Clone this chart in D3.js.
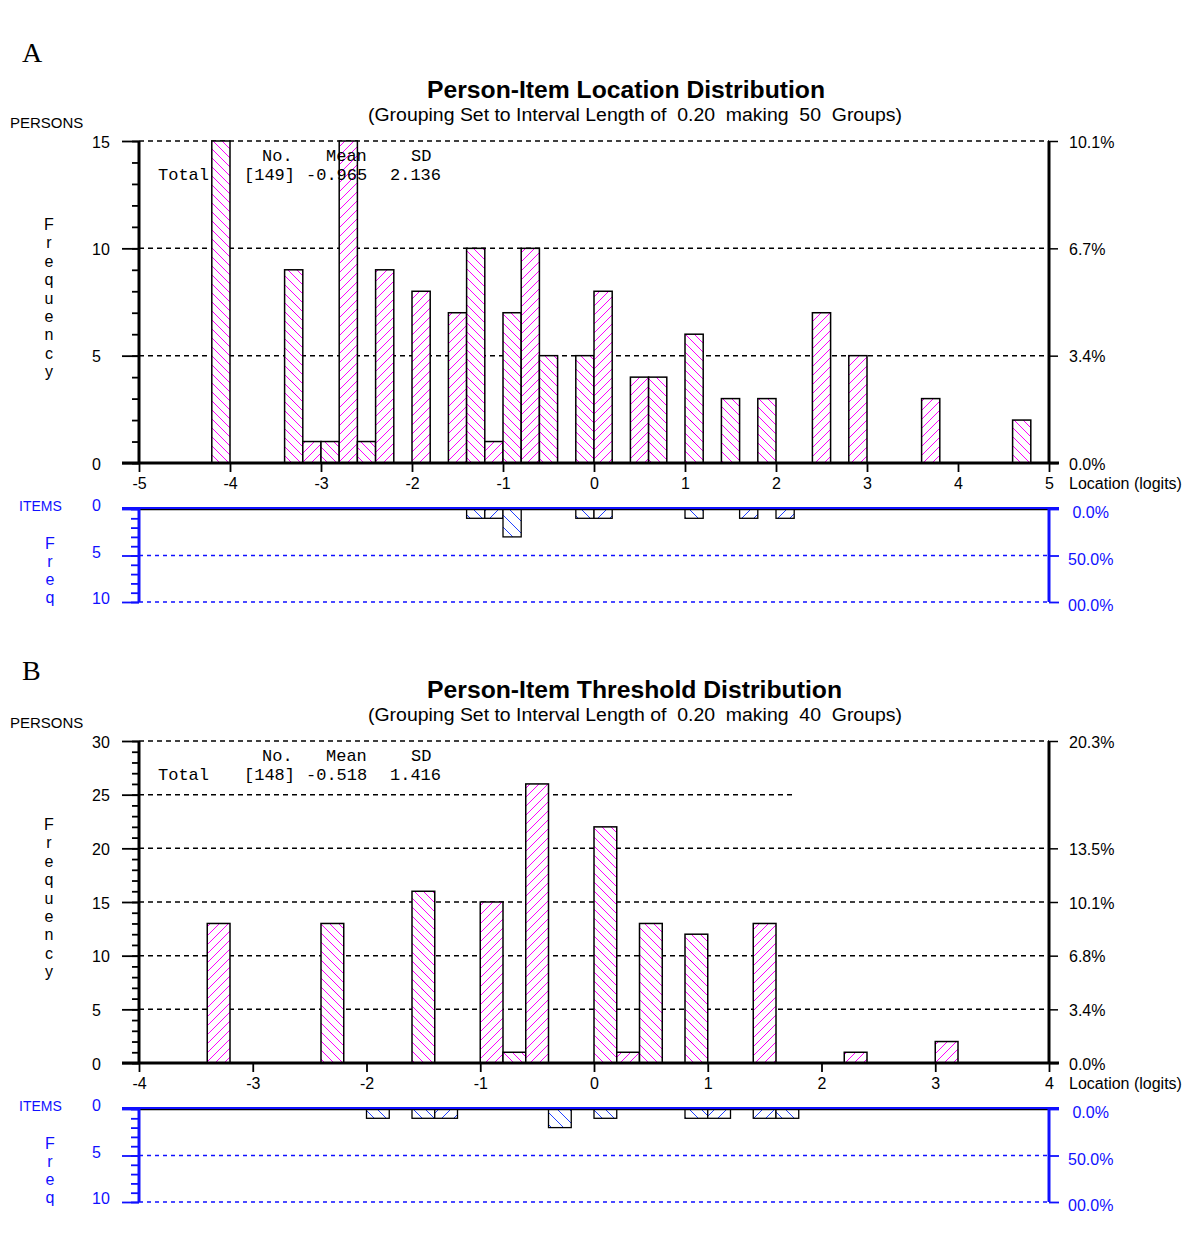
<!DOCTYPE html>
<html>
<head>
<meta charset="utf-8">
<script src="https://cdn.jsdelivr.net/npm/d3@7"></script>
<style>
  body { margin: 0; background: #fff; }
  text { white-space: pre; }
</style>
</head>
<body>
<script>
// ---- data ----
// panel A: person / item locations, bins of 0.2 logits (lower edge of each bin)
const locPersonEdges = [-4.2, -3.4, -3.2, -3.0, -2.8, -2.6, -2.4, -2.0, -1.6, -1.4, -1.2, -1.0, -0.8, -0.6, -0.2, 0.0, 0.4, 0.6, 1.0, 1.4, 1.8, 2.4, 2.8, 3.6, 4.6];
const locPersonCounts = [15, 9, 1, 1, 15, 1, 9, 8, 7, 10, 1, 7, 10, 5, 5, 8, 4, 4, 6, 3, 3, 7, 5, 3, 2];
const locItemEdges = [-1.4, -1.2, -1.0, -0.2, 0.0, 1.0, 1.6, 2.0];
const locItemCounts = [1, 1, 3, 1, 1, 1, 1, 1];
const locXTicks = [-5, -4, -3, -2, -1, 0, 1, 2, 3, 4, 5];
const locYTicks = [0, 5, 10, 15];
const locPctTicks = [0, 5, 10, 15];
const locPctLabels = ["0.0%", "3.4%", "6.7%", "10.1%"];
const locStats = ["[149]", "-0.965", "2.136"];

// panel B: person / item thresholds
const thrPersonEdges = [-3.4, -2.4, -1.6, -1.0, -0.8, -0.6, 0.0, 0.2, 0.4, 0.8, 1.4, 2.2, 3.0];
const thrPersonCounts = [13, 13, 16, 15, 1, 26, 22, 1, 13, 12, 13, 1, 2];
const thrItemEdges = [-2.0, -1.6, -1.4, -0.4, 0.0, 0.8, 1.0, 1.4, 1.6];
const thrItemCounts = [1, 1, 1, 2, 1, 1, 1, 1, 1];
const thrXTicks = [-4, -3, -2, -1, 0, 1, 2, 3, 4];
const thrYTicks = [0, 5, 10, 15, 20, 25, 30];
const thrPctTicks = [0, 5, 10, 15, 20, 30];
const thrPctLabels = ["0.0%", "3.4%", "6.8%", "10.1%", "13.5%", "20.3%"];
const thrStats = ["[148]", "-0.518", "1.416"];

// item panel (same in both)
const itemTicks = [0, 5, 10];
const itemPctLabels = [" 0.0%", "50.0%", "00.0%"];

const binWidth = 0.2;
const SANS = "'Liberation Sans', Arial, sans-serif";
const MONO = "'Liberation Mono', 'Courier New', monospace";
const BLUE = "#1010ff";

const svg = d3.select("body").append("svg")
  .attr("width", 1200)
  .attr("height", 1238);

const defs = svg.append("defs");

function addHatch(id, color, s, dir) {
  const p = defs.append("pattern")
    .attr("id", id)
    .attr("patternUnits", "userSpaceOnUse")
    .attr("width", s)
    .attr("height", s);
  p.append("rect").attr("width", s).attr("height", s).attr("fill", "#fff");
  const d = dir === "/"
    ? `M0,${s} L${s},0 M${-s / 2},${s / 2} L${s / 2},${-s / 2} M${s / 2},${s * 1.5} L${s * 1.5},${s / 2}`
    : `M0,0 L${s},${s} M${-s / 2},${s / 2} L${s / 2},${s * 1.5} M${s / 2},${-s / 2} L${s * 1.5},${s / 2}`;
  p.append("path").attr("d", d).attr("stroke", color).attr("stroke-width", 1).attr("fill", "none");
}
addHatch("pf", "#ff00ff", 9, "/");
addHatch("pb", "#ff00ff", 9, "\\");
addHatch("if", "#2040ff", 12, "/");
addHatch("ib", "#2040ff", 12, "\\");

function vertical(g, letters, x, y0, step, color) {
  letters.split("").forEach((ch, i) => {
    g.append("text")
      .attr("x", x).attr("y", y0 + i * step)
      .attr("text-anchor", "middle")
      .attr("font-family", SANS).attr("font-size", 16)
      .attr("fill", color)
      .text(ch);
  });
}

function drawPanel(p) {
  const off = p.offset;
  const g = svg.append("g");
  const x = d3.scaleLinear().domain(p.xDomain).range([139, 1049]);
  const y = d3.scaleLinear().domain([0, p.yMax]).range([463 + off, 141 + off]);
  const yi = d3.scaleLinear().domain([0, 10]).range([509 + off, 602 + off]);
  const hatch = (edge, kind) => {
    const idx = Math.round((edge - p.xDomain[0]) / binWidth);
    return `url(#${kind}${idx % 2 ? "f" : "b"})`;
  };

  // figure letter and titles
  g.append("text").attr("x", 22).attr("y", p.letterY)
    .attr("font-family", "'Liberation Serif', 'Times New Roman', serif")
    .attr("font-size", 28).text(p.letter);
  g.append("text").attr("x", 427).attr("y", 98 + off)
    .attr("font-family", SANS).attr("font-size", 23).attr("font-weight", "bold")
    .attr("textLength", p.titleLen).attr("lengthAdjust", "spacingAndGlyphs")
    .text(p.title);
  g.append("text").attr("x", 368).attr("y", 121 + off)
    .attr("font-family", SANS).attr("font-size", 18)
    .attr("textLength", 534).attr("lengthAdjust", "spacingAndGlyphs")
    .text(p.subtitle);
  g.append("text").attr("x", 10).attr("y", 128 + off)
    .attr("font-family", SANS).attr("font-size", 15).text("PERSONS");
  vertical(g, "Frequency", 49, 230 + off, 18.4, "#000");

  // dashed gridlines
  p.yTicks.filter(v => v > 0).forEach(v => {
    const end = v === p.partialGrid.value ? x(p.partialGrid.end) : 1049;
    g.append("line")
      .attr("x1", 139).attr("x2", end)
      .attr("y1", y(v)).attr("y2", y(v))
      .attr("stroke", "#000").attr("stroke-width", 1.5)
      .attr("stroke-dasharray", "5,4");
  });

  // person bars
  g.append("g").selectAll("rect")
    .data(d3.zip(p.personEdges, p.personCounts))
    .join("rect")
    .attr("x", d => x(d[0]))
    .attr("width", d => x(d[0] + binWidth) - x(d[0]))
    .attr("y", d => y(d[1]))
    .attr("height", d => y(0) - y(d[1]))
    .attr("fill", d => hatch(d[0], "p"))
    .attr("stroke", "#000")
    .attr("stroke-width", 1.5);

  // summary statistics
  const stat = (tx, ty, s) => g.append("text").attr("x", tx).attr("y", ty + off)
    .attr("font-family", MONO).attr("font-size", 17).text(s);
  stat(262, 161, "No.");
  stat(326, 161, "Mean");
  stat(411, 161, "SD");
  stat(158, 180, "Total");
  stat(244, 180, p.stats[0]);
  stat(306, 180, p.stats[1]);
  stat(390, 180, p.stats[2]);

  // left axis: major + minor ticks
  const left = g.append("g").attr("transform", "translate(139,0)");
  left.call(d3.axisLeft(y).tickValues(d3.range(0, p.yMax + 1)).tickSize(7).tickFormat(""));
  const leftMajor = g.append("g").attr("transform", "translate(139,0)");
  leftMajor.call(d3.axisLeft(y).tickValues(p.yTicks).tickSize(17).tickFormat(d => String(d)));
  leftMajor.selectAll("text")
    .attr("x", -47).attr("dy", "0.38em")
    .attr("text-anchor", "start");
  [left, leftMajor].forEach(a => {
    a.select(".domain").remove();
    a.selectAll("line").attr("stroke", "#000").attr("stroke-width", 1.8);
  });
  leftMajor.selectAll("text").attr("font-family", SANS).attr("font-size", 16).attr("fill", "#000");

  g.append("line").attr("x1", 139).attr("x2", 139)
    .attr("y1", y(p.yMax)).attr("y2", y(0))
    .attr("stroke", "#000").attr("stroke-width", 3);

  // right axis with percentages
  const right = g.append("g").attr("transform", "translate(1049,0)");
  right.call(d3.axisRight(y).tickValues(p.pctTicks).tickSize(9)
    .tickFormat((d, i) => p.pctLabels[i]));
  right.select(".domain").remove();
  right.selectAll("line").attr("stroke", "#000").attr("stroke-width", 1.5);
  right.selectAll("text").attr("x", 20).attr("dy", "0.38em")
    .attr("font-family", SANS).attr("font-size", 16).attr("fill", "#000");
  g.append("line").attr("x1", 1049).attr("x2", 1049)
    .attr("y1", y(p.yMax)).attr("y2", y(0))
    .attr("stroke", "#000").attr("stroke-width", 3);

  // bottom axis
  const bottom = g.append("g").attr("transform", `translate(0,${y(0)})`);
  bottom.call(d3.axisBottom(x).tickValues(p.xTicks).tickSize(9).tickFormat(d => String(d)));
  bottom.select(".domain").remove();
  bottom.selectAll("line").attr("stroke", "#000").attr("stroke-width", 1.8);
  bottom.selectAll("text").attr("y", 15)
    .attr("font-family", SANS).attr("font-size", 16).attr("fill", "#000");
  g.append("line").attr("x1", 122).attr("x2", 1059)
    .attr("y1", y(0)).attr("y2", y(0))
    .attr("stroke", "#000").attr("stroke-width", 3);
  g.append("text").attr("x", 1069).attr("y", 489 + off)
    .attr("font-family", SANS).attr("font-size", 16).text("Location (logits)");

  // ---- items panel ----
  g.append("text").attr("x", 19).attr("y", 511 + off)
    .attr("font-family", SANS).attr("font-size", 14).attr("fill", BLUE).text("ITEMS");
  vertical(g, "Freq", 50, 549 + off, 18, BLUE);

  itemTicks.filter(v => v > 0).forEach(v => {
    g.append("line")
      .attr("x1", 139).attr("x2", 1049)
      .attr("y1", yi(v)).attr("y2", yi(v))
      .attr("stroke", BLUE).attr("stroke-width", 1.5)
      .attr("stroke-dasharray", "4,4");
  });

  g.append("g").selectAll("rect")
    .data(d3.zip(p.itemEdges, p.itemCounts))
    .join("rect")
    .attr("x", d => x(d[0]))
    .attr("width", d => x(d[0] + binWidth) - x(d[0]))
    .attr("y", yi(0))
    .attr("height", d => yi(d[1]) - yi(0))
    .attr("fill", d => hatch(d[0], "i"))
    .attr("stroke", "#000")
    .attr("stroke-width", 1.3);

  const iLeft = g.append("g").attr("transform", "translate(139,0)");
  iLeft.call(d3.axisLeft(yi).tickValues(d3.range(0, 11)).tickSize(8).tickFormat(""));
  const iLeftMajor = g.append("g").attr("transform", "translate(139,0)");
  iLeftMajor.call(d3.axisLeft(yi).tickValues(itemTicks).tickSize(17).tickFormat(d => String(d)));
  [iLeft, iLeftMajor].forEach(a => {
    a.select(".domain").remove();
    a.selectAll("line").attr("stroke", BLUE).attr("stroke-width", 1.8);
  });
  iLeftMajor.selectAll("text")
    .attr("x", -47).attr("dy", "0.1em").attr("text-anchor", "start")
    .attr("font-family", SANS).attr("font-size", 16).attr("fill", BLUE);

  const iRight = g.append("g").attr("transform", "translate(1049,0)");
  iRight.call(d3.axisRight(yi).tickValues(itemTicks).tickSize(10)
    .tickFormat((d, i) => itemPctLabels[i]));
  iRight.select(".domain").remove();
  iRight.selectAll("line").attr("stroke", BLUE).attr("stroke-width", 1.8);
  iRight.selectAll("text").attr("x", 19).attr("dy", "0.55em")
    .attr("font-family", SANS).attr("font-size", 16).attr("fill", BLUE);

  // top of items panel: black base line with blue rule above
  g.append("line").attr("x1", 139).attr("x2", 1049)
    .attr("y1", yi(0) + 0.5).attr("y2", yi(0) + 0.5)
    .attr("stroke", "#000").attr("stroke-width", 1.5);
  g.append("line").attr("x1", 122).attr("x2", 1059)
    .attr("y1", yi(0) - 1).attr("y2", yi(0) - 1)
    .attr("stroke", BLUE).attr("stroke-width", 2);
  g.append("line").attr("x1", 139).attr("x2", 139)
    .attr("y1", yi(0) - 1).attr("y2", yi(10))
    .attr("stroke", BLUE).attr("stroke-width", 3);
  g.append("line").attr("x1", 1049).attr("x2", 1049)
    .attr("y1", yi(0) - 1).attr("y2", yi(10))
    .attr("stroke", BLUE).attr("stroke-width", 3);
}

drawPanel({
  offset: 0,
  letter: "A",
  letterY: 62,
  title: "Person-Item Location Distribution",
  titleLen: 398,
  subtitle: "(Grouping Set to Interval Length of  0.20  making  50  Groups)",
  xDomain: [-5, 5],
  xTicks: locXTicks,
  yMax: 15,
  yTicks: locYTicks,
  pctTicks: locPctTicks,
  pctLabels: locPctLabels,
  partialGrid: { value: null, end: 5 },
  personEdges: locPersonEdges,
  personCounts: locPersonCounts,
  itemEdges: locItemEdges,
  itemCounts: locItemCounts,
  stats: locStats,
});

drawPanel({
  offset: 600,
  letter: "B",
  letterY: 680,
  title: "Person-Item Threshold Distribution",
  titleLen: 415,
  subtitle: "(Grouping Set to Interval Length of  0.20  making  40  Groups)",
  xDomain: [-4, 4],
  xTicks: thrXTicks,
  yMax: 30,
  yTicks: thrYTicks,
  pctTicks: thrPctTicks,
  pctLabels: thrPctLabels,
  partialGrid: { value: 25, end: 1.76 },
  personEdges: thrPersonEdges,
  personCounts: thrPersonCounts,
  itemEdges: thrItemEdges,
  itemCounts: thrItemCounts,
  stats: thrStats,
});
</script>
</body>
</html>
